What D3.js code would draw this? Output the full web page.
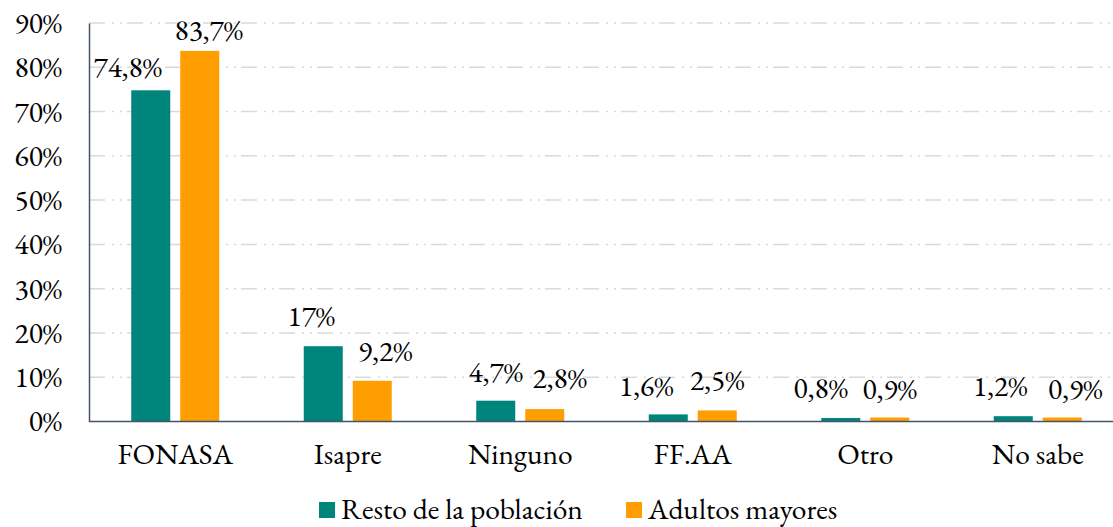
<!doctype html>
<html lang="es">
  <head>
    <meta charset="utf-8">
    <title>Sistema previsional de salud</title>
    <style>
      * { margin: 0; padding: 0; }
      body { width: 1113px; height: 527px; overflow: hidden; background: #fff; }
      svg { display: block; }
    </style>
    <script src="https://cdn.jsdelivr.net/npm/d3@7"></script>
  </head>
  <body>
    <svg width="1113" height="527"></svg>

    <script>
      // Data
      const categories = ["FONASA", "Isapre", "Ninguno", "FF.AA", "Otro", "No sabe"];
      const series = ["Resto de la población", "Adultos mayores"];
      const resto = [74.8, 17, 4.7, 1.6, 0.8, 1.2];
      const adultos = [83.7, 9.2, 2.8, 2.5, 0.9, 0.9];
      const labelsResto = ["74,8%", "17%", "4,7%", "1,6%", "0,8%", "1,2%"];
      const labelsAdultos = ["83,7%", "9,2%", "2,8%", "2,5%", "0,9%", "0,9%"];
      const yTicks = [0, 10, 20, 30, 40, 50, 60, 70, 80, 90];

      const colors = ["#00857d", "#ff9e01"];
      const FONT = "'EB Garamond', 'Liberation Serif', serif";
      const FONT_SIZE = 29.5;

      // manual label nudges, [dx, dy] in px, like the hand-placed labels of the original
      const nudgeResto = [[-23, 5], [-12, -2], [0, -1], [-22, 0], [-20, -2], [-13, -2]];
      const nudgeAdultos = [[9, 7], [13, -2], [15, -3], [0, -2], [0, -1], [13, -1]];

      const svg = d3.select("svg");
      const plotLeft = 89, plotRight = 1124, plotTop = 23, plotBottom = 421.5;

      const x0 = d3.scaleBand().domain(categories).range([plotLeft, plotRight]);
      const x1 = d3.scaleBand().domain(series)
          .range([x0.bandwidth() / 2 - 44, x0.bandwidth() / 2 + 44])
          .paddingInner(0.204);
      const y = d3.scaleLinear().domain([0, 90]).range([plotBottom, plotTop]);

      function styleText(sel) {
        sel.style("font-family", FONT)
           .style("font-size", FONT_SIZE + "px")
           .attr("fill", "#000");
      }

      // gridlines
      svg.append("g")
        .selectAll("line")
        .data(yTicks.filter(t => t > 0))
        .join("line")
          .attr("x1", plotLeft).attr("x2", 1113)
          .attr("y1", d => y(d)).attr("y2", d => y(d))
          .attr("stroke", "#d9d9d9")
          .attr("stroke-width", 1.5)
          .attr("stroke-dasharray", "16,7,2,6,2,5");

      // y axis
      const yAxis = svg.append("g")
          .attr("transform", `translate(${plotLeft},0)`)
          .call(d3.axisLeft(y).tickValues(yTicks).tickSize(0).tickPadding(27)
                  .tickFormat(d => d + "%"));
      yAxis.select(".domain").attr("stroke", "#44546a").attr("stroke-width", 1.5);
      yAxis.selectAll("text").call(styleText);

      // bars
      const rows = categories.map((c, i) => ({
        cat: c,
        vals: [
          { s: series[0], v: resto[i], label: labelsResto[i], nudge: nudgeResto[i] },
          { s: series[1], v: adultos[i], label: labelsAdultos[i], nudge: nudgeAdultos[i] }
        ]
      }));

      const group = svg.append("g")
        .selectAll("g")
        .data(rows)
        .join("g")
          .attr("transform", d => `translate(${x0(d.cat)},0)`);

      group.selectAll("rect")
        .data(d => d.vals)
        .join("rect")
          .attr("x", d => x1(d.s))
          .attr("width", x1.bandwidth())
          .attr("y", d => y(d.v))
          .attr("height", d => plotBottom - y(d.v))
          .attr("fill", (d, i) => colors[i]);

      group.selectAll("text")
        .data(d => d.vals)
        .join("text")
          .attr("x", d => x1(d.s) + x1.bandwidth() / 2 + d.nudge[0])
          .attr("y", d => y(d.v) - 18 + d.nudge[1])
          .attr("text-anchor", "middle")
          .text(d => d.label)
          .call(styleText);

      // x axis line and category labels
      svg.append("line")
          .attr("x1", plotLeft).attr("x2", 1113)
          .attr("y1", plotBottom).attr("y2", plotBottom)
          .attr("stroke", "#44546a").attr("stroke-width", 1.5);

      svg.append("g")
        .selectAll("text")
        .data(categories)
        .join("text")
          .attr("x", d => x0(d) + x0.bandwidth() / 2)
          .attr("y", 464)
          .attr("text-anchor", "middle")
          .text(d => d)
          .call(styleText);

      // legend (kept a few px higher so the descenders stay inside the frame)
      const legendX = [319, 626];
      const legend = svg.append("g")
        .selectAll("g")
        .data(series)
        .join("g")
          .attr("transform", (d, i) => `translate(${legendX[i]},502)`);
      legend.append("rect")
          .attr("width", 16).attr("height", 16)
          .attr("fill", (d, i) => colors[i]);
      legend.append("text")
          .attr("x", 22).attr("y", 16.5)
          .text(d => d)
          .call(styleText);
    </script>
  </body>
</html>
